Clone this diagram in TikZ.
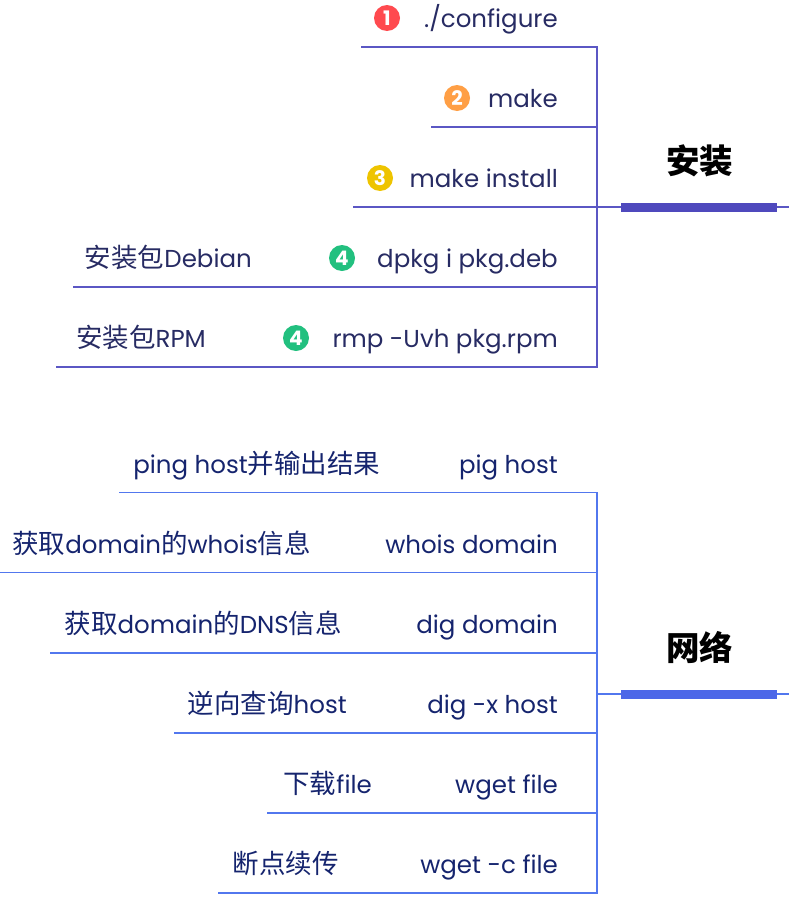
\documentclass[tikz,border=0pt]{standalone}
\usepackage{fontspec}
\setmainfont[Ligatures=NoCommon]{Poppins}
\newfontfamily\cjk{Noto Sans CJK SC}
\definecolor{lineA}{HTML}{5B57C4}
\definecolor{lineB}{HTML}{5277EE}
\definecolor{barA}{HTML}{4F49BD}
\definecolor{barB}{HTML}{4C67E8}
\definecolor{txtA}{HTML}{272B63}
\definecolor{txtB}{HTML}{15246E}
\definecolor{cRed}{HTML}{FF4A4F}
\definecolor{cOrange}{HTML}{FF9F45}
\definecolor{cYellow}{HTML}{EEC400}
\definecolor{cGreen}{HTML}{22C07F}
\newcommand{\zh}[1]{{\cjk\fontsize{26.5}{26}\selectfont #1}}
\tikzset{
  lbl/.style={inner sep=0pt,anchor=base east,font=\fontsize{24.5}{25}\selectfont},
  lblA/.style={lbl,text=txtA},
  lblB/.style={lbl,text=txtB},
  topic/.style={inner sep=0pt,anchor=center,text=black,font=\cjk\bfseries\fontsize{33.5}{33}\selectfont},
  badge/.style={circle,fill=#1,inner sep=0pt,minimum size=26pt,text=white,font=\bfseries\fontsize{20}{20}\selectfont},
  wireA/.style={draw=lineA,line width=1.7pt},
  wireB/.style={draw=lineB,line width=1.7pt},
  barAs/.style={fill=barA,draw=none},
  barBs/.style={fill=barB,draw=none}
}
\begin{document}
\begin{tikzpicture}[x=1pt,y=-1pt]
\useasboundingbox (0,0) rectangle (789,905);
% ---- install
\coordinate (a1l) at (361,47); \coordinate (a1r) at (597,47);
\coordinate (a2l) at (431,127); \coordinate (a2r) at (597,127);
\coordinate (a3l) at (353,207); \coordinate (a3r) at (597,207);
\coordinate (a4l) at (73,287); \coordinate (a4r) at (597,287);
\coordinate (a5l) at (56,367); \coordinate (a5r) at (597,367);
\coordinate (aEnd) at (789,207);
\draw[wireA] (a1l) -- (a1r) -- (a5r) -- (a5l);
\draw[wireA] (a2l) -- (a2r);
\draw[wireA] (a3l) -- (aEnd);
\draw[wireA] (a4l) -- (a4r);
\fill[barAs] (621,202.5) rectangle (777,212);
\node[topic] (tA) at (699.5,160.5) {安装};
\node[badge=cRed] (b1) at (387,18) {1};
\node[badge=cOrange] (b2) at (457,98) {2};
\node[badge=cYellow] (b3) at (380,178) {3};
\node[badge=cGreen] (b4) at (342,258) {4};
\node[badge=cGreen] (b5) at (296,338) {4};
\node[lblA] (t1) at (558,27.5) {./configure};
\node[lblA] (t2) at (558,107.5) {make};
\node[lblA] (t3) at (558,187.5) {make install};
\node[lblA] (t4) at (558,267.5) {dpkg i pkg.deb};
\node[lblA] (t5) at (558,347.5) {rmp -Uvh pkg.rpm};
\node[lblA] (n4) at (252,267.5) {\zh{安装包}Debian};
\node[lblA] (n5) at (206,347.5) {\zh{安装包}RPM};
% ---- network
\coordinate (c1l) at (119,492.5); \coordinate (c1r) at (597,492.5);
\coordinate (c2l) at (0,572.5); \coordinate (c2r) at (597,572.5);
\coordinate (c3l) at (50,653); \coordinate (c3r) at (597,653);
\coordinate (c4l) at (174,733); \coordinate (c4r) at (597,733);
\coordinate (c5l) at (267,813); \coordinate (c5r) at (597,813);
\coordinate (c6l) at (218,893); \coordinate (c6r) at (597,893);
\coordinate (cMid) at (597,694); \coordinate (cEnd) at (789,694);
\draw[wireB] (c1l) -- (c1r) -- (c6r) -- (c6l);
\draw[wireB] (c2l) -- (c2r);
\draw[wireB] (c3l) -- (c3r);
\draw[wireB] (c4l) -- (c4r);
\draw[wireB] (c5l) -- (c5r);
\draw[wireB] (cMid) -- (cEnd);
\fill[barBs] (621,689.5) rectangle (777,699);
\node[topic] (tB) at (699.5,647.5) {网络};
\node[lblB] (u1) at (558,473.5) {pig host};
\node[lblB] (u2) at (558,553.5) {whois domain};
\node[lblB] (u3) at (558,633.5) {dig domain};
\node[lblB] (u4) at (558,713.5) {dig -x host};
\node[lblB] (u5) at (558,793.5) {wget file};
\node[lblB] (u6) at (558,873.5) {wget -c file};
\node[lblB] (v1) at (380.5,473.5) {ping host\zh{并输出结果}};
\node[lblB] (v2) at (311,553.5) {\zh{获取}domain\zh{的}whois\zh{信息}};
\node[lblB] (v3) at (342,633.5) {\zh{获取}domain\zh{的}DNS\zh{信息}};
\node[lblB] (v4) at (347,713.5) {\zh{逆向查询}host};
\node[lblB] (v5) at (372,793.5) {\zh{下载}file};
\node[lblB] (v6) at (339,873.5) {\zh{断点续传}};
\end{tikzpicture}
\end{document}
